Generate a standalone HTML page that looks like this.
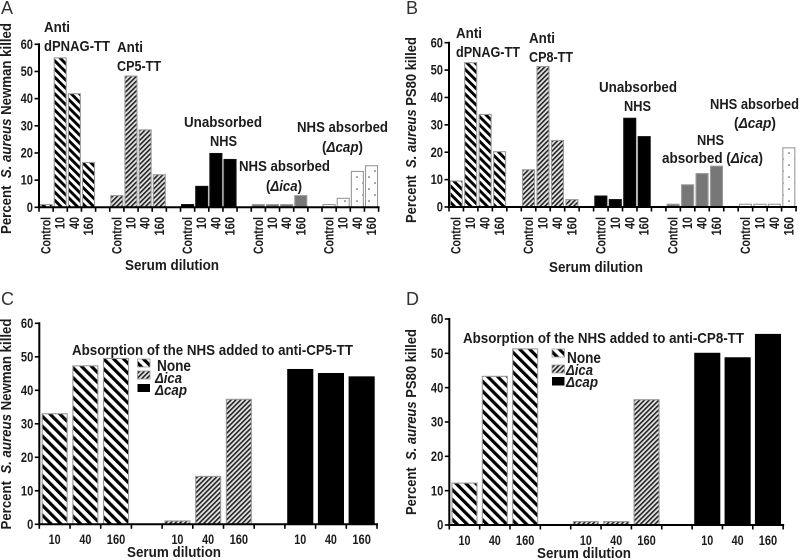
<!DOCTYPE html>
<html>
<head>
<meta charset="utf-8">
<title>Percent S. aureus killed by serum dilution</title>
<style>
html,body{margin:0;padding:0;background:#fff;width:800px;height:560px;overflow:hidden}
svg{display:block}
text{font-family:"Liberation Sans",sans-serif;font-weight:bold;fill:#1c1c1c;font-size:14.5px}
.panel{font-weight:normal;font-size:18px;fill:#333}
.ann{font-size:15px}
.i{font-style:italic}
</style>
</head>
<body>
<svg id="fig" xmlns="http://www.w3.org/2000/svg" width="800" height="560" viewBox="0 0 800 560">
<defs>
<pattern id="wideA" width="5.8" height="5.8" patternUnits="userSpaceOnUse" patternTransform="rotate(-45)"><rect width="5.8" height="5.8" fill="#fff"/><rect width="2.9" height="5.8" fill="#000"/></pattern>
<pattern id="wideC" width="7" height="7" patternUnits="userSpaceOnUse" patternTransform="rotate(-45)"><rect width="7" height="7" fill="#fff"/><rect width="3.2" height="7" fill="#000"/></pattern>
<pattern id="hatch" width="3.4" height="3.4" patternUnits="userSpaceOnUse" patternTransform="rotate(45)"><rect width="3.4" height="3.4" fill="#e4e4e4"/><rect width="1.6" height="3.4" fill="#222"/></pattern>
<pattern id="dots" width="12" height="12" patternUnits="userSpaceOnUse"><rect width="12" height="12" fill="#fff"/><circle cx="3" cy="3" r="0.8" fill="#444"/><circle cx="9" cy="9" r="0.8" fill="#444"/></pattern>
</defs>

<text class="panel" x="1" y="14">A</text>
<text class="panel" x="406" y="14">B</text>
<text class="panel" x="1" y="305">C</text>
<text class="panel" x="406" y="305">D</text>

<g>
<text class="ann" x="44" y="32" textLength="26" lengthAdjust="spacingAndGlyphs">Anti</text>
<text class="ann" x="44" y="51" textLength="66" lengthAdjust="spacingAndGlyphs">dPNAG-TT</text>
<text class="ann" x="117" y="52" textLength="26" lengthAdjust="spacingAndGlyphs">Anti</text>
<text class="ann" x="117" y="71" textLength="44" lengthAdjust="spacingAndGlyphs">CP5-TT</text>
<text class="ann" x="184" y="127" textLength="78" lengthAdjust="spacingAndGlyphs">Unabsorbed</text>
<text class="ann" x="210" y="146" textLength="27" lengthAdjust="spacingAndGlyphs">NHS</text>
<text class="ann" x="239" y="171" textLength="91" lengthAdjust="spacingAndGlyphs">NHS absorbed</text>
<text class="ann" x="266" y="191" textLength="36" lengthAdjust="spacingAndGlyphs">(<tspan class="i">Δica</tspan>)</text>
<text class="ann" x="297" y="132" textLength="91" lengthAdjust="spacingAndGlyphs">NHS absorbed</text>
<text class="ann" x="322" y="152" textLength="41" lengthAdjust="spacingAndGlyphs">(<tspan class="i">Δcap</tspan>)</text>
<text class="ann" transform="translate(11,128.5) rotate(-90)" text-anchor="middle" textLength="211" lengthAdjust="spacingAndGlyphs">Percent&#160;&#160;<tspan class="i">S. aureus</tspan> Newman killed</text>
<text class="ann" x="125" y="270" textLength="94" lengthAdjust="spacingAndGlyphs">Serum dilution</text>
</g>

<g>
<text class="ann" x="456" y="38" textLength="26" lengthAdjust="spacingAndGlyphs">Anti</text>
<text class="ann" x="456" y="57" textLength="64" lengthAdjust="spacingAndGlyphs">dPNAG-TT</text>
<text class="ann" x="529" y="43" textLength="26" lengthAdjust="spacingAndGlyphs">Anti</text>
<text class="ann" x="529" y="62" textLength="44" lengthAdjust="spacingAndGlyphs">CP8-TT</text>
<text class="ann" x="599" y="92" textLength="78" lengthAdjust="spacingAndGlyphs">Unabsorbed</text>
<text class="ann" x="624" y="111" textLength="27" lengthAdjust="spacingAndGlyphs">NHS</text>
<text class="ann" x="697" y="145" textLength="27" lengthAdjust="spacingAndGlyphs">NHS</text>
<text class="ann" x="662" y="163" textLength="101" lengthAdjust="spacingAndGlyphs">absorbed (<tspan class="i">Δica</tspan>)</text>
<text class="ann" x="710" y="109" textLength="89" lengthAdjust="spacingAndGlyphs">NHS absorbed</text>
<text class="ann" x="734" y="128" textLength="42" lengthAdjust="spacingAndGlyphs">(<tspan class="i">Δcap</tspan>)</text>
<text class="ann" transform="translate(416,130) rotate(-90)" text-anchor="middle" textLength="186" lengthAdjust="spacingAndGlyphs">Percent&#160;&#160;<tspan class="i">S. aureus</tspan> PS80 killed</text>
<text class="ann" x="549" y="272" textLength="94" lengthAdjust="spacingAndGlyphs">Serum dilution</text>
</g>

<g>
<text class="ann" transform="translate(11,424) rotate(-90)" text-anchor="middle" textLength="211" lengthAdjust="spacingAndGlyphs">Percent&#160;&#160;<tspan class="i">S. aureus</tspan> Newman killed</text>
<text class="ann" x="72" y="355" textLength="281" lengthAdjust="spacingAndGlyphs">Absorption of the NHS added to anti-CP5-TT</text>
<rect x="137.500" y="359" width="12.500" height="8" fill="url(#wideC)" stroke="#999" stroke-width=".8"/>
<rect x="137.500" y="371" width="12.500" height="8" fill="url(#hatch)" stroke="#999" stroke-width=".8"/>
<rect x="137.500" y="384" width="12.500" height="8" fill="#000"/>
<text style="font-size:16px" x="157" y="371" textLength="34" lengthAdjust="spacingAndGlyphs">None</text>
<text class="i" x="155" y="383" textLength="27" lengthAdjust="spacingAndGlyphs">Δica</text>
<text class="i" x="155" y="395" textLength="32" lengthAdjust="spacingAndGlyphs">Δcap</text>
<text class="ann" x="127" y="557" textLength="94" lengthAdjust="spacingAndGlyphs">Serum dilution</text>
</g>

<g>
<text class="ann" transform="translate(416,422) rotate(-90)" text-anchor="middle" textLength="186" lengthAdjust="spacingAndGlyphs">Percent&#160;&#160;<tspan class="i">S. aureus</tspan> PS80 killed</text>
<text class="ann" x="463" y="343" textLength="281" lengthAdjust="spacingAndGlyphs">Absorption of the NHS added to anti-CP8-TT</text>
<rect x="552" y="349" width="12.500" height="8" fill="url(#wideC)" stroke="#999" stroke-width=".8"/>
<rect x="552" y="365" width="12.500" height="8" fill="url(#hatch)" stroke="#999" stroke-width=".8"/>
<rect x="552" y="377" width="12.500" height="8.500" fill="#000"/>
<text style="font-size:16px" x="567" y="363" textLength="34" lengthAdjust="spacingAndGlyphs">None</text>
<text class="i" x="566" y="375" textLength="27" lengthAdjust="spacingAndGlyphs">Δica</text>
<text class="i" x="566" y="387" textLength="32" lengthAdjust="spacingAndGlyphs">Δcap</text>
<text class="ann" x="537" y="558" textLength="94" lengthAdjust="spacingAndGlyphs">Serum dilution</text>
</g>
</svg>

<script>
const yTicks = [0, 10, 20, 30, 40, 50, 60];
const dilutionsWithControl = ['Control', '10', '40', '160'];
const dilutions = ['10', '40', '160'];

const panelAValues = [
  [1, 55, 41.8, 16.5],
  [4.3, 48.3, 28.5, 12],
  [1, 7.7, 19.8, 17.6],
  [1, 1, 1, 4.3],
  [1, 3.3, 13.2, 15.3]
];
const panelBValues = [
  [9.5, 52.7, 33.8, 20.2],
  [13.6, 51.3, 24.3, 2.7],
  [4, 2.7, 32.4, 25.7],
  [1, 8.1, 12.2, 14.9],
  [1, 1, 1, 21.6]
];
const panelCValues = [
  [33, 47.3, 49.5],
  [1, 14.3, 37.3],
  [46.2, 45, 44]
];
const panelDValues = [
  [12.2, 43.3, 51.3],
  [1, 1, 36.5],
  [50, 48.7, 55.5]
];

const SVGNS = 'http://www.w3.org/2000/svg';
const fig = document.getElementById('fig');
const labelLengths = { 'Control': 37, '10': 12, '40': 12, '160': 18.5 };
const fiveStyles = [
  { fill: 'url(#wideA)', stroke: '#999' },
  { fill: 'url(#hatch)', stroke: '#999' },
  { fill: '#000', stroke: '#111' },
  { fill: '#777', stroke: '#999' },
  { fill: 'url(#dots)', stroke: '#999' }
];
const threeStyles = [
  { fill: 'url(#wideC)', stroke: '#999' },
  { fill: 'url(#hatch)', stroke: '#999' },
  { fill: '#000', stroke: '#000' }
];

function make(parent, tag, props) {
  const el = document.createElementNS(SVGNS, tag);
  for (const k in props) el.setAttribute(k, props[k]);
  parent.appendChild(el);
  return el;
}

function drawPanel(id, groups, cats, styles, geo) {
  const root = make(fig, 'g', {});
  
  
  const yScale = v => geo.y0 + (geo.y60 - geo.y0) * v / 60;
  const slotCenter = i => geo.left + geo.step * (i + 0.5);
  const perGroup = cats.length;
  const slots = groups.length * (perGroup + 1) - 1;

  groups.forEach((vals, g) => {
    vals.forEach((v, b) => {
      const cx = slotCenter(g * (perGroup + 1) + b);
      const bar = make(root, 'rect', {
        x: cx - geo.barW / 2, y: yScale(v), width: geo.barW, height: geo.y0 - yScale(v),
        fill: styles[g].fill, stroke: styles[g].stroke, 'stroke-width': 1.1
      });
      
      

      const t = make(root, 'text', geo.rotated
        ? { transform: 'translate(' + (cx + 4.5) + ',' + geo.labelY + ') rotate(-90)', 'text-anchor': 'end', textLength: labelLengths[cats[b]], lengthAdjust: 'spacingAndGlyphs', style: 'font-size:13.5px' }
        : { x: cx, y: geo.labelY, 'text-anchor': 'middle', textLength: labelLengths[cats[b]], lengthAdjust: 'spacingAndGlyphs', style: 'font-size:13.5px' });
      t.textContent = cats[b];
      
      
    });
  });

  const xAxis = make(root, 'line', { x1: geo.left - 1, x2: geo.left + geo.step * slots + 1, y1: geo.y0, y2: geo.y0, stroke: '#000', 'stroke-width': 2 });
  
  
  const yAxis = make(root, 'line', { x1: geo.left, x2: geo.left, y1: geo.y60 - 1, y2: geo.y0 + 1, stroke: '#000', 'stroke-width': 2 });
  
  

  for (let k = 0; k <= slots; k++) {
    const x = geo.left + geo.step * k;
    const tick = make(root, 'line', { x1: x, x2: x, y1: geo.y0, y2: geo.y0 + 4.5, stroke: '#000', 'stroke-width': 1.6 });
    
    
  }
  yTicks.forEach(v => {
    const tick = make(root, 'line', { x1: geo.left - 4.5, x2: geo.left, y1: yScale(v), y2: yScale(v), stroke: '#000', 'stroke-width': 1.6 });
    
    
    const t = make(root, 'text', { x: geo.left - 6, y: yScale(v) + 4.6, 'text-anchor': 'end', textLength: String(v).length * 6.2, lengthAdjust: 'spacingAndGlyphs', style: 'font-size:13.5px' });
    t.textContent = v;
    
    
  });
}

drawPanel('a', panelAValues, dilutionsWithControl, fiveStyles, { left: 39, step: 14.15, y0: 207.3, y60: 44.3, barW: 12, rotated: true, labelY: 217 });
drawPanel('b', panelBValues, dilutionsWithControl, fiveStyles, { left: 449, step: 14.46, y0: 207, y60: 42.7, barW: 12, rotated: true, labelY: 217 });
drawPanel('c', panelCValues, dilutions, threeStyles, { left: 39.3, step: 30.7, y0: 524.3, y60: 323.3, barW: 25, rotated: false, labelY: 544 });
drawPanel('d', panelDValues, dilutions, threeStyles, { left: 449.3, step: 30.35, y0: 525, y60: 319, barW: 25, rotated: false, labelY: 545 });
</script>
</body>
</html>
